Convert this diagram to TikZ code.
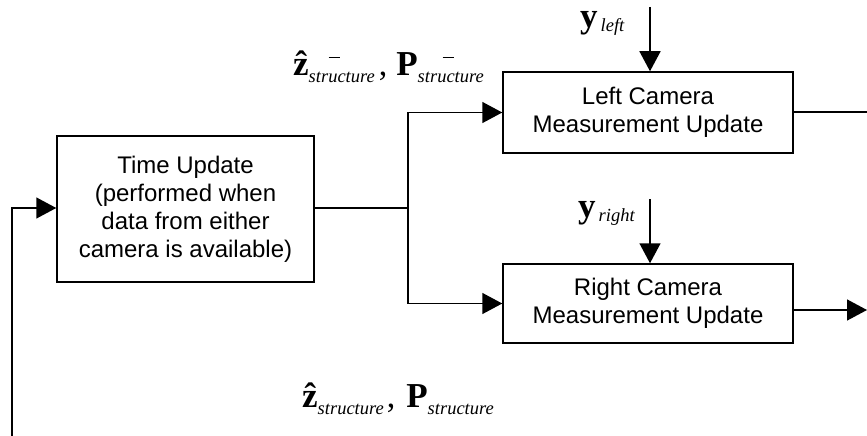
\documentclass[tikz,border=0pt]{standalone}
\usepackage{fontspec}
\setmainfont{Liberation Sans}
\newfontfamily\symserif{Liberation Serif}
\usetikzlibrary{arrows.meta}

% large bold symbol, italic subscript, small superscript minus
\newcommand{\bigsym}[1]{{\symserif\bfseries\fontsize{35}{35}\selectfont #1}}
\newcommand{\lowtxt}[1]{\raisebox{-7pt}{\symserif\itshape\fontsize{18.5}{18.5}\selectfont #1}}
\newcommand{\supminus}[1]{\makebox[0pt][l]{\kern#1\raisebox{17pt}{\rule{11pt}{1.4pt}}}}
\newcommand{\bigcomma}{{\symserif\fontsize{34}{34}\selectfont ,}}

\tikzset{
  blockbox/.style={draw, line width=1.5pt, align=center, font=\fontsize{24}{28}\selectfont, inner sep=0pt},
  wire/.style={line width=1.5pt},
  arr/.style={wire, -{Triangle[length=20pt,width=21pt]}},
  lbl/.style={inner sep=0pt, anchor=base west},
}

\begin{document}
\begin{tikzpicture}[x=1pt, y=-1pt]
\useasboundingbox (0,0) rectangle (867,436);

% processing blocks
\node[blockbox, minimum width=257pt, minimum height=146pt] (tu) at (185.5,209)
  {Time Update\\(performed when\\data from either\\camera is available)};
\node[blockbox, minimum width=290pt, minimum height=81pt] (lc) at (648,112.5)
  {Left Camera\\Measurement Update};
\node[blockbox, minimum width=290pt, minimum height=79pt] (rc) at (648,303.5)
  {Right Camera\\Measurement Update};

% free ends and branch point
\coordinate (j) at (408,208);
\coordinate (yl) at (650,7);
\coordinate (yr) at (650,199);
\coordinate (outL) at (867,112);
\coordinate (outR) at (867,310);
\coordinate (fb) at (12,436);

% connectors
\draw[wire] (tu.east |- j) -- (j);
\draw[arr] (j) |- (lc.west);
\draw[arr] (j) |- (rc.west);
\draw[arr] (yl) -- (lc.north -| yl);
\draw[arr] (yr) -- (rc.north -| yr);
\draw[wire] (lc.east |- outL) -- (outL);
\draw[arr] (rc.east |- outR) -- (outR);
\draw[arr] (fb) |- (tu.west |- j);

% signal labels
\node[lbl] (ylab) at (580,28) {\bigsym{y}\kern3pt\raisebox{-4pt}{\symserif\itshape\fontsize{18.5}{18.5}\selectfont left}};
\node[lbl] (yrlab) at (578,217) {\bigsym{y}\kern3pt\raisebox{-4pt}{\symserif\itshape\fontsize{18.5}{18.5}\selectfont right}};
\node[lbl] (prior) at (293,75)
  {\bigsym{\^z}\supminus{20pt}\lowtxt{structure}\kern4pt\bigcomma\kern9pt\bigsym{P}\supminus{25pt}\lowtxt{structure}};
\node[lbl] (post) at (302,407)
  {\bigsym{\^z}\lowtxt{structure}\kern3pt\bigcomma\kern11pt\bigsym{P}\lowtxt{structure}};
\end{tikzpicture}
\end{document}
